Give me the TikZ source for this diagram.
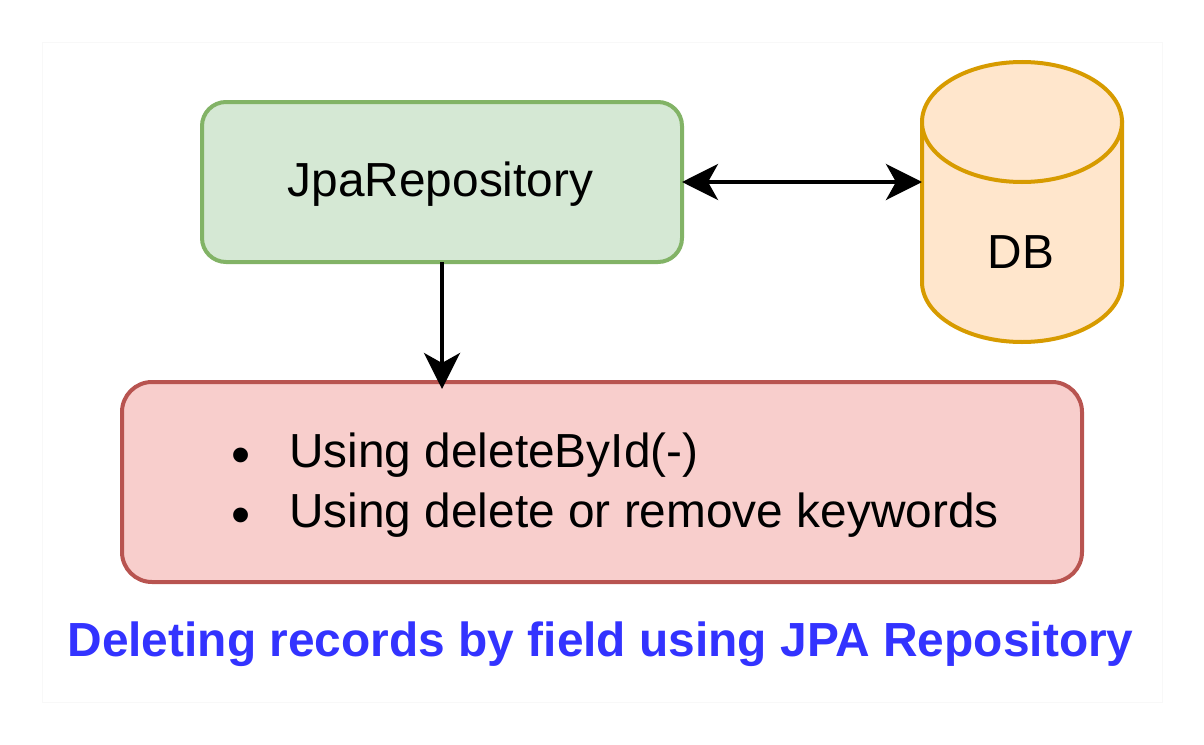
\documentclass[tikz,border=0pt]{standalone}
\usepackage{fontspec}
\setmainfont{Liberation Sans}
\usetikzlibrary{arrows.meta}
\definecolor{framegray}{HTML}{F8F8F8}
\definecolor{repofill}{HTML}{D5E8D4}
\definecolor{repoline}{HTML}{82B366}
\definecolor{dbfill}{HTML}{FFE6CC}
\definecolor{dbline}{HTML}{D79B00}
\definecolor{waysfill}{HTML}{F8CECC}
\definecolor{waysline}{HTML}{B85450}
\definecolor{titleblue}{HTML}{3333FF}
\tikzset{
  bigtext/.style={font=\fontsize{27.2pt}{32pt}\selectfont, text=black},
  box/.style={draw, line width=0.08cm, outer sep=0pt, inner sep=0pt},
  link/.style={line width=0.08cm, {Stealth[length=0.72cm,width=0.72cm,inset=0.2cm]}-{Stealth[length=0.72cm,width=0.72cm,inset=0.2cm]}},
  linkdown/.style={line width=0.08cm, -{Stealth[length=0.72cm,width=0.72cm,inset=0.2cm]}, shorten >=-0.14cm}
}
\begin{document}
\begin{tikzpicture}
        \useasboundingbox (0,0) rectangle (24.08,14.88);
        \draw [framegray, line width=0.02cm] (0.84,0.84) rectangle (23.24,14.04);
        % boxes
        \node (jparepo) [box, draw=repoline, fill=repofill, rounded corners=0.48cm, minimum width=9.6cm, minimum height=3.2cm] at (8.84,11.24) {};
        \node (jparepolabel) [bigtext] at (8.81,11.2) {JpaRepository};
        \node (ways) [box, draw=waysline, fill=waysfill, rounded corners=0.6cm, minimum width=19.2cm, minimum height=4cm] at (12.04,5.24) {};
        % the cylinder, body first and then its lid
        \node (db) [outer sep=0pt, inner sep=0pt, minimum width=4cm, minimum height=5.6cm] at (20.44,10.84) {};
        \draw [line width=0.08cm, draw=dbline, fill=dbfill] (18.44,12.44) -- (18.44,9.24) arc [start angle=180, end angle=360, x radius=2cm, y radius=1.2cm] -- (22.44,12.44) -- cycle;
        \draw [line width=0.08cm, draw=dbline, fill=dbfill] (20.44,12.44) ellipse [x radius=2cm, y radius=1.2cm];
        \node (dblabel) [bigtext] at (20.42,9.84) {DB};
        % list inside the red box
        \foreach \y/\name/\txt in {5.54/itemone/Using deleteById(-), 4.34/itemtwo/Using delete or remove keywords}{
          \node (\name) [bigtext, anchor=base west, inner sep=0pt] at (4.62,\y) {\makebox[1.16cm][l]{\raisebox{-0.13cm}{\fontsize{31pt}{32pt}\selectfont\textbullet}}\txt};
        }
        \node (title) [anchor=base, inner sep=0pt, text=titleblue, font=\fontsize{27.25pt}{32pt}\selectfont\bfseries] at (12.01,1.76) {Deleting records by field using JPA Repository};
        % connectors
        \coordinate (dbleft) at (db.west |- jparepo.east);
        \draw [link] (jparepo.east) -- (dbleft);
        \draw [linkdown] (jparepo.south) -- (jparepo.south |- ways.north);
\end{tikzpicture}
\end{document}
